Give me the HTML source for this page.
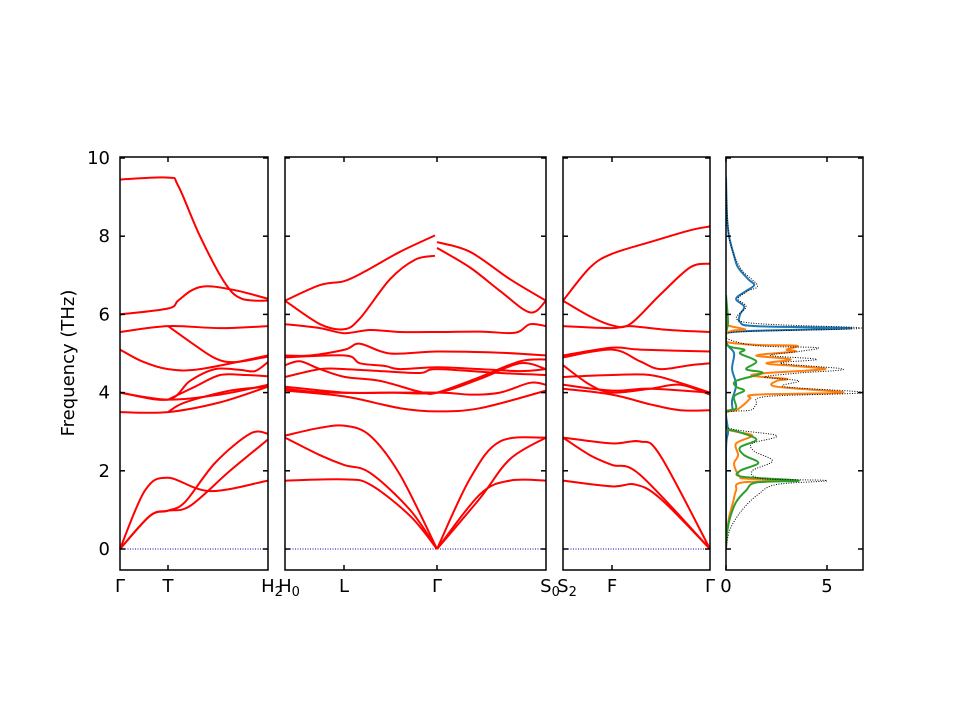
<!DOCTYPE html>
<html><head><meta charset="utf-8"><style>
body{margin:0;background:#fff}
svg{display:block;font-family:"DejaVu Sans","Liberation Sans",sans-serif}
</style></head><body>
<svg id="s" width="960" height="720" xmlns="http://www.w3.org/2000/svg">
<text x="74" y="363" font-size="18" text-anchor="middle" transform="rotate(-90 74 363)">Frequency (THz)</text>
</svg>
<script>
var S=document.getElementById('s'),NS='http://www.w3.org/2000/svg';
function Y(f){return 549-39.1*f;}
function el(t,a,txt){var e=document.createElementNS(NS,t);for(var k in a)e.setAttribute(k,a[k]);if(txt!==undefined)e.textContent=txt;S.appendChild(e);return e;}
function smooth(p){var d='M'+p[0][0].toFixed(1)+','+p[0][1].toFixed(1);for(var i=0;i<p.length-1;i++){var p0=p[i-1]||p[i],p1=p[i],p2=p[i+1],p3=p[i+2]||p2;
var c1=[p1[0]+(p2[0]-p0[0])/6,p1[1]+(p2[1]-p0[1])/6],c2=[p2[0]-(p3[0]-p1[0])/6,p2[1]-(p3[1]-p1[1])/6];
d+='C'+c1[0].toFixed(1)+','+c1[1].toFixed(1)+' '+c2[0].toFixed(1)+','+c2[1].toFixed(1)+' '+p2[0].toFixed(1)+','+p2[1].toFixed(1);}return d;}
function band(pts){el('path',{d:smooth(pts.map(function(q){return [q[0],Y(q[1])];})),fill:'none',stroke:'#ff0000','stroke-width':2});}
var panels=[[120,268,[168]],[285,546,[344,437]],[563,710,[612]],[726,863,[726,827]]];
[[120,268],[285,546],[563,710]].forEach(function(p){el('line',{x1:p[0],x2:p[1],y1:549,y2:549,stroke:'#0000aa','stroke-width':1,'stroke-dasharray':'1,1.5'});});
var B=[
[[120,9.45],[168,9.5],[178,9.3],[200,8],[225,6.8],[242,6.4],[268,6.35]],
[[120,6.0],[168,6.15],[178,6.35],[192,6.62],[208,6.72],[235,6.62],[268,6.4]],
[[120,5.55],[168,5.7],[220,5.65],[268,5.7]],
[[168,5.7],[190,5.3],[215,4.88],[235,4.78],[268,4.92]],
[[120,5.1],[142,4.8],[168,4.6],[200,4.6],[268,4.95]],
[[120,4.0],[168,3.82],[190,4.3],[215,4.6],[240,4.58],[255,4.55],[268,4.78]],
[[168,3.82],[195,4.15],[220,4.45],[245,4.45],[268,4.42]],
[[120,4.0],[168,3.82],[220,3.95],[268,4.2]],
[[120,3.5],[168,3.5],[220,3.75],[268,4.15]],
[[168,3.5],[185,3.75],[230,4.05],[268,4.15]],
[[120,0],[145,1.5],[168,1.82],[210,1.48],[268,1.75]],
[[120,0],[150,0.85],[168,0.98],[185,1.2],[215,2.2],[250,2.95],[268,2.95]],
[[120,0],[150,0.85],[168,0.98],[190,1.1],[230,2.0],[268,2.8]],
[[285,6.35],[320,6.75],[344,6.85],[365,7.1],[400,7.6],[435,8.02]],
[[437,7.85],[470,7.6],[510,6.9],[546,6.35]],
[[285,6.35],[320,5.75],[344,5.62],[360,5.9],[390,6.9],[415,7.4],[435,7.5]],
[[437,7.7],[470,7.2],[500,6.6],[530,6.05],[546,6.35]],
[[285,5.75],[320,5.65],[344,5.52],[370,5.6],[400,5.55],[437,5.55],[480,5.56],[515,5.53],[530,5.75],[546,5.7]],
[[285,4.95],[310,4.95],[345,5.1],[360,5.25],[390,5.0],[437,5.05],[500,5.02],[546,4.95]],
[[285,4.9],[345,4.95],[360,4.75],[385,4.68],[400,4.6],[437,4.65],[480,4.6],[520,4.55],[546,4.6]],
[[285,4.7],[300,4.8],[320,4.6],[345,4.4],[380,4.3],[420,4.02],[437,4.0],[480,4.4],[520,4.8],[546,4.85]],
[[285,4.4],[320,4.6],[345,4.6],[380,4.55],[420,4.5],[437,4.6],[500,4.5],[546,4.45]],
[[285,4.15],[345,4.0],[390,4.0],[437,4.0],[480,4.35],[520,4.75],[546,4.6]],
[[285,4.1],[330,4.0],[437,4.0],[470,3.95],[500,4.0],[530,4.25],[546,4.2]],
[[285,4.05],[345,3.9],[400,3.6],[437,3.52],[480,3.6],[546,4.05]],
[[285,2.9],[320,3.1],[345,3.15],[370,2.9],[400,1.9],[437,0]],
[[437,0],[470,1.8],[500,2.75],[546,2.85]],
[[285,2.85],[320,2.4],[344,2.15],[370,1.95],[410,1.0],[437,0]],
[[437,0],[480,1.4],[510,1.75],[546,1.75]],
[[285,1.75],[344,1.78],[370,1.65],[410,0.85],[437,0]],
[[437,0],[480,1.3],[510,2.3],[546,2.85]],
[[563,6.35],[590,7.2],[612,7.55],[650,7.85],[690,8.15],[710,8.25]],
[[563,6.35],[590,5.95],[612,5.72],[630,5.75],[660,6.5],[690,7.2],[710,7.3]],
[[563,5.7],[612,5.65],[630,5.7],[670,5.6],[710,5.55]],
[[563,4.95],[612,5.15],[640,5.1],[710,5.05]],
[[563,4.9],[612,5.1],[640,4.8],[660,4.6],[690,4.7],[710,4.75]],
[[563,4.7],[590,4.2],[612,4.0],[650,4.1],[680,4.2],[710,3.95]],
[[563,4.4],[612,4.45],[650,4.45],[680,4.25],[710,4.0]],
[[563,4.2],[612,4.05],[650,4.1],[710,4.0]],
[[563,4.1],[612,3.95],[650,3.7],[680,3.55],[710,3.55]],
[[563,2.85],[612,2.7],[640,2.75],[660,2.4],[710,0]],
[[563,2.85],[590,2.4],[612,2.15],[640,1.9],[710,0]],
[[563,1.75],[612,1.6],[635,1.65],[660,1.3],[710,0]]
];
B.forEach(band);
function X(v){return 726+20.2*v;}
function dos(pts,col,extra){var a={d:smooth(pts.map(function(q){return [X(q[1]),Y(q[0])];})),fill:'none',stroke:col,'stroke-width':2};for(var k in extra)a[k]=extra[k];el('path',a);}
var blue=[[9.5,0],[8.5,0.05],[8,0.15],[7.5,0.4],[7.2,0.6],[6.9,1.1],[6.75,1.4],[6.6,1.0],[6.4,0.5],[6.2,0.9],[6.0,0.7],[5.8,0.7],[5.7,1.5],[5.65,6.2],[5.6,3],[5.55,0.3],[5.4,0],[5.2,0.1],[5.0,0.4],[4.6,0.3],[4.2,0.5],[3.8,0.3],[3.55,0.3],[3.5,0],[3.0,0.1],[2.5,0],[0,0]];
var orange=[[6,0],[5.8,0],[5.7,0.2],[5.62,0.95],[5.58,0.3],[5.5,0],[5.3,0],[5.22,1.5],[5.2,3.5],[5.1,3.0],[5.05,3.4],[4.95,1.5],[4.85,3.2],[4.75,2.0],[4.68,3.4],[4.6,4.9],[4.5,2.0],[4.43,1.3],[4.35,3.0],[4.3,2.5],[4.15,2.5],[4.0,5.8],[3.95,1.5],[3.85,1.2],[3.7,0.9],[3.55,0.5],[3.48,0],[3.1,0],[3.0,0.5],[2.9,1.3],[2.7,0.5],[2.4,0.6],[2.2,0.4],[2.0,0.5],[1.85,0.7],[1.8,1.0],[1.75,3.5],[1.7,0.8],[1.5,0.5],[1.2,0.35],[0.8,0.15],[0.4,0.05],[0,0]];
var green=[[6.5,0],[5.8,0.1],[5.5,0],[5.2,0.1],[5.1,0.9],[5.0,0.7],[4.8,1.5],[4.6,1.0],[4.5,1.8],[4.3,0.5],[4.15,0.5],[4.05,0.9],[3.9,0.4],[3.6,0.5],[3.5,0],[3.1,0],[3.0,0.6],[2.8,1.5],[2.6,0.7],[2.4,0.9],[2.2,1.6],[2.0,0.7],[1.85,0.8],[1.75,3.6],[1.7,1.5],[1.5,1.0],[1.2,0.5],[0.8,0.2],[0.4,0.05],[0,0]];
var tot=[[9.5,0],[8,0.15],[7.2,0.7],[6.75,1.55],[6.6,1.1],[6.4,0.6],[6.2,1.0],[5.8,0.9],[5.65,6.7],[5.55,0.5],[5.4,0],[5.2,1.5],[5.15,4.5],[5.05,3.6],[4.95,2.2],[4.85,4.5],[4.75,2.7],[4.6,5.8],[4.5,3.6],[4.4,1.9],[4.3,3.6],[4.15,2.9],[4.0,6.8],[3.9,2.0],[3.7,1.5],[3.55,1.2],[3.48,0],[3.1,0.1],[2.9,2.5],[2.7,1.3],[2.5,1.4],[2.25,2.3],[2.0,1.3],[1.8,1.8],[1.75,5.0],[1.65,2.5],[1.4,1.6],[1.0,0.8],[0.5,0.2],[0,0]];
dos(blue,'#1f77b4');dos(orange,'#ff7f0e');dos(green,'#2ca02c');
dos(tot,'#000',{'stroke-width':1,'stroke-dasharray':'1,1.5'});
el('rect',{x:863.5,y:150,width:40,height:430,fill:'#fff'});
el('rect',{x:711,y:150,width:14.5,height:430,fill:'#fff'});
panels.forEach(function(p){var x0=p[0],x1=p[1];
for(var f=0;f<=10;f+=2){var y=Y(f);el('line',{x1:x0,x2:x0+5,y1:y,y2:y,stroke:'#000','stroke-width':1.5});el('line',{x1:x1-5,x2:x1,y1:y,y2:y,stroke:'#000','stroke-width':1.5});}
p[2].forEach(function(x){el('line',{x1:x,x2:x,y1:157,y2:162,stroke:'#000','stroke-width':1.5});el('line',{x1:x,x2:x,y1:565,y2:570,stroke:'#000','stroke-width':1.5});});
el('rect',{x:x0,y:157,width:x1-x0,height:413,fill:'none',stroke:'#000','stroke-width':1.5});});
for(var f=0;f<=10;f+=2)el('text',{x:110,y:Y(f)+6,'font-size':18,'text-anchor':'end'},String(f));
[[120,'Γ'],[168,'T'],[344,'L'],[437,'Γ'],[612,'F'],[710,'Γ'],[726,'0'],[827,'5']].forEach(function(l){el('text',{x:l[0],y:592,'font-size':18,'text-anchor':'middle'},l[1]);});
function sub(x,a,b){var t=el('text',{x:x,y:592,'font-size':18,'text-anchor':'middle'});t.textContent=a;var s=document.createElementNS(NS,'tspan');s.setAttribute('font-size','13');s.setAttribute('dy','4');s.textContent=b;t.appendChild(s);}
sub(272,'H','2');sub(289,'H','0');sub(550,'S','0');sub(567,'S','2');
</script>
</body></html>
